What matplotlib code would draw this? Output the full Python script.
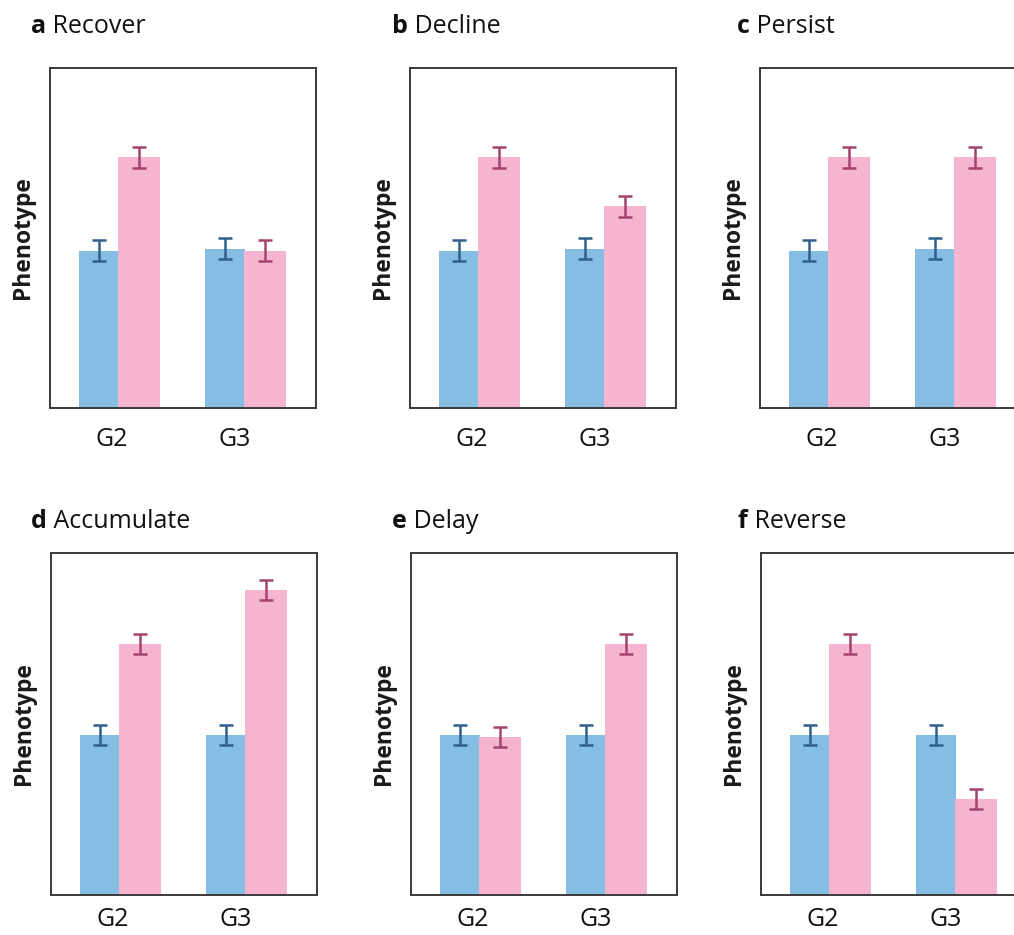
import matplotlib
matplotlib.use("Agg")
import matplotlib.pyplot as plt

groups = ["G2", "G3"]
letters = ["a", "b", "c", "d", "e", "f"]
titles = ["Recover", "Decline", "Persist", "Accumulate", "Delay", "Reverse"]
blue_vals = [[4.63, 4.69], [4.63, 4.69], [4.63, 4.69], [4.68, 4.68], [4.68, 4.68], [4.68, 4.68]]
pink_vals = [[7.37, 4.63], [7.37, 5.93], [7.37, 7.37], [7.34, 8.92], [4.62, 7.34], [7.34, 2.81]]
blue_err = [0.3, 0.3]
pink_err = [0.3, 0.3]

BLUE = "#86bde3"
PINK = "#f5b4d0"
BLUE_E = "#2f5f8c"
PINK_E = "#a3446f"
SPINE = "#3a3a3a"

plt.rcParams['font.family'] = ['Open Sans', 'DejaVu Sans']

W, H = 1014, 935
fig = plt.figure(figsize=(W / 100, H / 100), dpi=100)

# pixel geometry of axes: (left, top, width, height)
lefts = [50, 410, 760, 51, 411, 761]
tops = [68, 68, 68, 553, 553, 553]
heights = [340, 340, 340, 342, 342, 342]
width_px = 266
title_x = [31, 392, 737, 31, 392, 738]
title_y = [33, 33, 33, 528, 528, 528]
tick_pad = [14, 14, 14, 9, 9, 9]

bw = 0.32
for i in range(6):
    l, t, h = lefts[i], tops[i], heights[i]
    ax = fig.add_axes([l / W, (H - t - h) / H, width_px / W, h / H])
    x = [0, 1]
    ax.bar([v - bw / 2 for v in x], blue_vals[i], width=bw, color=BLUE,
           yerr=blue_err, error_kw=dict(ecolor=BLUE_E, elinewidth=1.8, capsize=4.8, capthick=1.8))
    ax.bar([v + bw / 2 for v in x], pink_vals[i], width=bw * 1.03, color=PINK,
           yerr=pink_err, error_kw=dict(ecolor=PINK_E, elinewidth=1.8, capsize=4.8, capthick=1.8))
    ax.set_xlim(-0.548, 1.563)
    ax.set_ylim(0, 10)
    ax.set_yticks([])
    ax.set_xticks([-0.06, 0.92])
    ax.set_xticklabels(groups, fontsize=18, color="#111111")
    ax.tick_params(axis='x', length=0, pad=tick_pad[i])
    for s in ax.spines.values():
        s.set_color(SPINE)
        s.set_linewidth(1.4)
    ax.text(-27 / width_px, 0.5, "Phenotype", transform=ax.transAxes, rotation=90,
            ha="center", va="center", fontsize=16.5, fontweight="bold", color="#1a1a1a")
    tl = fig.text(title_x[i] / W, 1 - title_y[i] / H, letters[i], fontsize=18,
                  fontweight="bold", ha="left", va="baseline", color="#111111")
    ax.annotate(" " + titles[i], xy=(1, 0), xycoords=tl, fontsize=18,
                ha="left", va="bottom", color="#111111", annotation_clip=False)

fig.savefig("out.png", dpi=100)
